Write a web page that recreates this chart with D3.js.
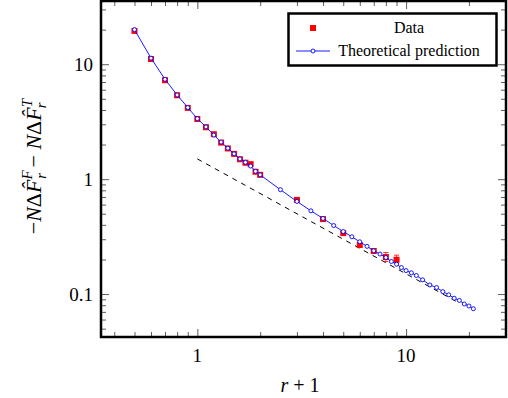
<!DOCTYPE html>
<html>
<head>
<meta charset="utf-8">
<script src="https://d3js.org/d3.v7.min.js"></script>
<style>
  body { margin: 0; background: #fff; }
  svg text { font-family: "Liberation Serif", "DejaVu Serif", serif; }
</style>
</head>
<body>
<div id="chart"></div>
<script type="text/javascript">
// measured data (red squares)
var dataX = [0.5, 0.6, 0.7, 0.8, 0.9, 1.0, 1.1, 1.2, 1.3, 1.4, 1.5, 1.6, 1.7, 1.8, 1.9, 2.0, 3, 4, 5, 6, 7, 8, 9];
var dataY = [19.5, 11.1, 7.26, 5.37, 4.17, 3.34, 2.83, 2.46, 2.08, 1.85, 1.66, 1.49, 1.39, 1.35, 1.16, 1.09, 0.66, 0.449, 0.339, 0.267, 0.237, 0.21, 0.199];
// error bars (only visible on the last two points)
var errLo = [null, null, null, null, null, null, null, null, null, null, null, null, null, null, null, null, null, null, null, null, null, 0.192, 0.186];
var errHi = [null, null, null, null, null, null, null, null, null, null, null, null, null, null, null, null, null, null, null, null, null, 0.230, 0.218];

// theoretical prediction (blue line + circles)
var theoX = [0.5, 0.6, 0.7, 0.8, 0.9, 1.0, 1.1, 1.2, 1.3, 1.4, 1.5, 1.6, 1.7, 1.8, 1.9, 2.0,
             2.5, 3.0, 3.5, 4.0, 4.5, 5.0, 5.5, 6.0, 6.5, 7.0, 7.5, 8.0, 8.5, 9.0, 9.5, 10,
             10.6, 11.2, 12, 13, 14, 15, 16, 17, 18, 19, 20, 21];
var theoY = [20.0, 11.3, 7.4, 5.4, 4.2, 3.36, 2.85, 2.42, 2.1, 1.86, 1.66, 1.5, 1.4, 1.3, 1.17, 1.09,
             0.81, 0.64, 0.53, 0.455, 0.395, 0.35, 0.315, 0.285, 0.26, 0.238, 0.223, 0.208, 0.192, 0.182, 0.170, 0.160,
             0.153, 0.145, 0.133, 0.120, 0.114, 0.105, 0.0985, 0.092, 0.088, 0.082, 0.0787, 0.0745];

// dashed reference line
var dashX = [1, 18];
var dashY = [1.5, 0.0833];

var xMajor = [1, 10];
var xMinor = [0.4, 0.5, 0.6, 0.7, 0.8, 0.9, 2, 3, 4, 5, 6, 7, 8, 9, 20, 30];
var yMajor = [0.1, 1, 10];
var yMinor = [0.05, 0.06, 0.07, 0.08, 0.09, 0.2, 0.3, 0.4, 0.5, 0.6, 0.7, 0.8, 0.9,
              2, 3, 4, 5, 6, 7, 8, 9, 20, 30];
var tickLabels = {0.1: "0.1", 1: "1", 10: "10"};

var W = 508, H = 398;
var pLeft = 101, pRight = 506, pTop = 1, pBottom = 337;

var svg = d3.select("#chart").append("svg")
    .attr("width", W)
    .attr("height", H);

var x = d3.scaleLog().domain([0.3456, 30.1]).range([pLeft, pRight]);
var y = d3.scaleLog().domain([0.0423, 35.5]).range([pBottom, pTop]);

// ticks (pointing inwards, on all four sides)
function drawTicks(axisFn, vals, size, tr) {
    var g = svg.append("g")
        .attr("transform", tr)
        .call(axisFn.tickValues(vals).tickSize(size).tickSizeOuter(0).tickFormat(""));
    g.select(".domain").remove();
    g.selectAll(".tick line").attr("stroke", "#333").attr("stroke-width", 0.8);
    return g;
}
drawTicks(d3.axisBottom(x), xMinor, -5, "translate(0," + pBottom + ")");
drawTicks(d3.axisBottom(x), xMajor, -8, "translate(0," + pBottom + ")");
drawTicks(d3.axisTop(x), xMinor, -5, "translate(0," + pTop + ")");
drawTicks(d3.axisTop(x), xMajor, -8, "translate(0," + pTop + ")");
drawTicks(d3.axisLeft(y), yMinor, -5, "translate(" + pLeft + ",0)");
drawTicks(d3.axisLeft(y), yMajor, -8, "translate(" + pLeft + ",0)");
drawTicks(d3.axisRight(y), yMinor, -5, "translate(" + pRight + ",0)");
drawTicks(d3.axisRight(y), yMajor, -8, "translate(" + pRight + ",0)");

// tick labels
svg.selectAll(".xlab").data(xMajor).enter().append("text")
    .attr("x", function(d) { return x(d); })
    .attr("y", 362)
    .attr("text-anchor", "middle")
    .style("font-size", "19px")
    .text(function(d) { return tickLabels[d]; });
svg.selectAll(".ylab").data(yMajor).enter().append("text")
    .attr("x", 93)
    .attr("y", function(d) { return y(d) + 6.5; })
    .attr("text-anchor", "end")
    .style("font-size", "19px")
    .text(function(d) { return tickLabels[d]; });

var plot = svg.append("g");

// dashed line
var line = d3.line()
    .x(function(d) { return x(d[0]); })
    .y(function(d) { return y(d[1]); });
plot.append("path")
    .datum(d3.zip(dashX, dashY))
    .attr("fill", "none")
    .attr("stroke", "#000")
    .attr("stroke-width", 1)
    .attr("stroke-dasharray", "5,5")
    .attr("d", line);

// data: error bars
var dataPts = dataX.map(function(v, i) { return {x: v, y: dataY[i], lo: errLo[i], hi: errHi[i]}; });
var errPts = dataPts.filter(function(d) { return d.lo != null; });
errPts.forEach(function(d) {
    var cx = x(d.x);
    plot.append("line").attr("x1", cx).attr("x2", cx).attr("y1", y(d.lo)).attr("y2", y(d.hi))
        .attr("stroke", "#f00").attr("stroke-width", 0.8);
    [d.lo, d.hi].forEach(function(v) {
        plot.append("line").attr("x1", cx - 2.5).attr("x2", cx + 2.5).attr("y1", y(v)).attr("y2", y(v))
            .attr("stroke", "#f00").attr("stroke-width", 0.8);
    });
});

// data: red squares
plot.selectAll(".sq").data(dataPts).enter().append("rect")
    .attr("x", function(d) { return x(d.x) - 3; })
    .attr("y", function(d) { return y(d.y) - 3; })
    .attr("width", 6)
    .attr("height", 6)
    .attr("fill", "#f00");

// theoretical line
var theoPts = d3.zip(theoX, theoY);
plot.append("path")
    .datum(theoPts)
    .attr("fill", "none")
    .attr("stroke", "#00f")
    .attr("stroke-width", 0.9)
    .attr("d", line);
plot.selectAll(".circ").data(theoPts).enter().append("circle")
    .attr("cx", function(d) { return x(d[0]); })
    .attr("cy", function(d) { return y(d[1]); })
    .attr("r", 2)
    .attr("fill", "#fff")
    .attr("stroke", "#00f")
    .attr("stroke-width", 0.9);

// frame
svg.append("rect")
    .attr("x", pLeft).attr("y", pTop)
    .attr("width", pRight - pLeft).attr("height", pBottom - pTop)
    .attr("fill", "none")
    .attr("stroke", "#000")
    .attr("stroke-width", 2.5);

// legend
var lg = svg.append("g");
lg.append("rect")
    .attr("x", 288.5).attr("y", 13.5).attr("width", 208).attr("height", 52)
    .attr("fill", "#fff").attr("stroke", "#000").attr("stroke-width", 2.5);
lg.append("rect").attr("x", 310).attr("y", 25).attr("width", 6).attr("height", 6).attr("fill", "#f00");
lg.append("text").attr("x", 409).attr("y", 33).attr("text-anchor", "middle")
    .style("font-size", "16px").text("Data");
lg.append("line").attr("x1", 296).attr("x2", 330).attr("y1", 51).attr("y2", 51)
    .attr("stroke", "#00f").attr("stroke-width", 0.9);
lg.append("circle").attr("cx", 313).attr("cy", 51).attr("r", 2)
    .attr("fill", "#fff").attr("stroke", "#00f").attr("stroke-width", 0.9);
lg.append("text").attr("x", 409).attr("y", 56).attr("text-anchor", "middle")
    .style("font-size", "16px").text("Theoretical prediction");

// axis titles
var xt = svg.append("text").attr("x", 300).attr("y", 392).attr("text-anchor", "middle")
    .style("font-size", "20px");
xt.append("tspan").style("font-style", "italic").text("r");
xt.append("tspan").text(" + 1");

var yt = svg.append("text")
    .attr("transform", "translate(41,167) rotate(-90)")
    .attr("text-anchor", "middle")
    .style("font-size", "22px");
function fPart(sup) {
    yt.append("tspan").style("font-style", "italic").text("N");
    yt.append("tspan").text("\u0394");
    yt.append("tspan").style("font-style", "italic").text("F\u0302");
    yt.append("tspan").style("font-style", "italic").style("font-size", "15px").attr("dy", -9).text(sup);
    yt.append("tspan").style("font-style", "italic").style("font-size", "15px").attr("dx", -8.5).attr("dy", 14).text("r");
}
yt.append("tspan").text("\u2212");
fPart("F");
yt.append("tspan").attr("dy", -5).text(" \u2212 ");
fPart("T");
</script>
</body>
</html>
